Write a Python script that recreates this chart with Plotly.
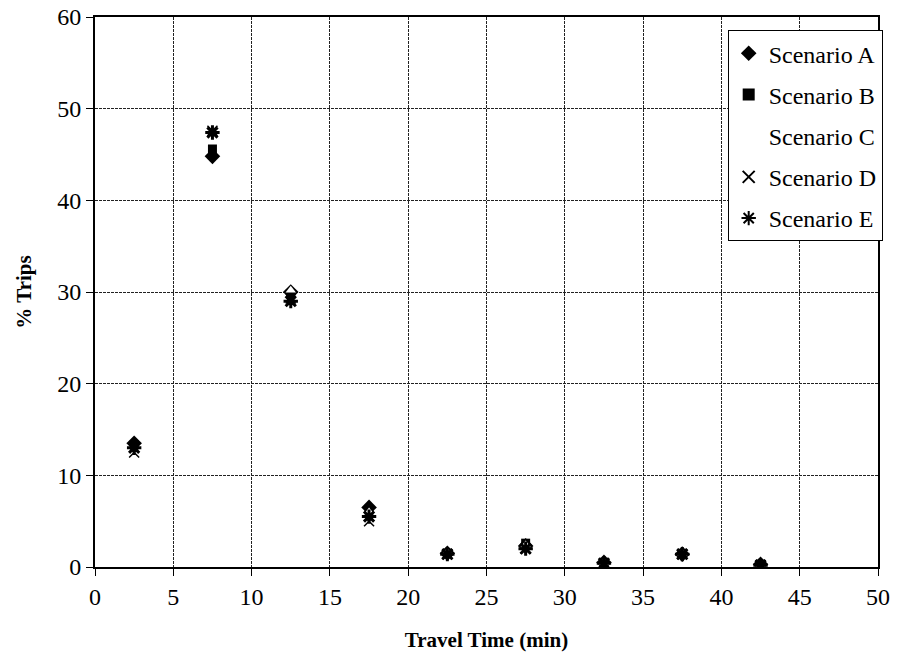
import plotly.graph_objects as go

travel_time = [2.5, 7.5, 12.5, 17.5, 22.5, 27.5, 32.5, 37.5, 42.5]
scenario_a = [13.5, 44.8, 30.0, 6.5, 1.5, 2.3, 0.5, 1.4, 0.3]
scenario_b = [13.3, 45.6, 29.8, 6.2, 1.5, 2.6, 0.5, 1.5, 0.3]
scenario_c = [13.0, 46.5, 30.2, 6.0, 1.6, 2.4, 0.5, 1.5, 0.3]
scenario_d = [12.5, 47.6, 29.3, 5.0, 1.4, 2.0, 0.4, 1.4, 0.2]
scenario_e = [13.0, 47.4, 29.0, 5.5, 1.4, 2.0, 0.4, 1.4, 0.2]

x_ticks = [0, 5, 10, 15, 20, 25, 30, 35, 40, 45, 50]
y_ticks = [0, 10, 20, 30, 40, 50, 60]

font_family = "Liberation Serif, Times New Roman, serif"

fig = go.Figure()
fig.add_trace(go.Scatter(x=travel_time, y=scenario_a, mode="markers", name="Scenario A",
                         legendgroup="a",
                         marker=dict(symbol="diamond", size=12, color="black")))
fig.add_trace(go.Scatter(x=travel_time, y=scenario_b, mode="markers", name="Scenario B",
                         legendgroup="b",
                         marker=dict(symbol="square", size=9, color="black")))
fig.add_trace(go.Scatter(x=travel_time, y=scenario_c, mode="markers", name="Scenario C",
                         legendgroup="c",
                         marker=dict(symbol="triangle-up", size=9, color="white",
                                     line=dict(width=0, color="white"))))
fig.add_trace(go.Scatter(x=travel_time, y=scenario_d, mode="markers", name="Scenario D",
                         legendgroup="d",
                         marker=dict(symbol="x-thin", size=10, color="black",
                                     line=dict(width=1.5, color="black"))))
fig.add_trace(go.Scatter(x=travel_time, y=scenario_e, mode="markers", name="Scenario E",
                         legendgroup="e",
                         marker=dict(symbol="asterisk", size=12, color="black",
                                     line=dict(width=3, color="black"))))

fig.update_layout(
    width=907, height=667,
    margin=dict(l=95, r=29, t=17, b=100),
    plot_bgcolor="white", paper_bgcolor="white",
    font=dict(family=font_family, size=23, color="black"),
    showlegend=True,
    legend=dict(x=1.006, y=0.976, xanchor="right", yanchor="top",
                bgcolor="white", bordercolor="black", borderwidth=1,
                font=dict(family=font_family, size=24, color="black"),
                itemsizing="constant", tracegroupgap=7, itemwidth=30),
)
grid_common = dict(ticks="outside", ticklen=7, tickcolor="black", tickwidth=1,
                   showgrid=True, gridcolor="#222", griddash="3px,1px", gridwidth=1,
                   showline=True, linecolor="black", linewidth=2, mirror=True,
                   zeroline=False, automargin=False,
                   tickfont=dict(family=font_family, size=24))
fig.update_xaxes(
    range=[0, 50], tickvals=x_ticks,
    title=dict(text="<b>Travel Time (min)</b>", standoff=24,
               font=dict(family=font_family, size=21)),
    **grid_common,
)
fig.update_yaxes(
    range=[0, 60], tickvals=y_ticks,
    title=dict(text="<b>% Trips</b>", standoff=20,
               font=dict(family=font_family, size=21)),
    **grid_common,
)

fig.write_html("out.html")
